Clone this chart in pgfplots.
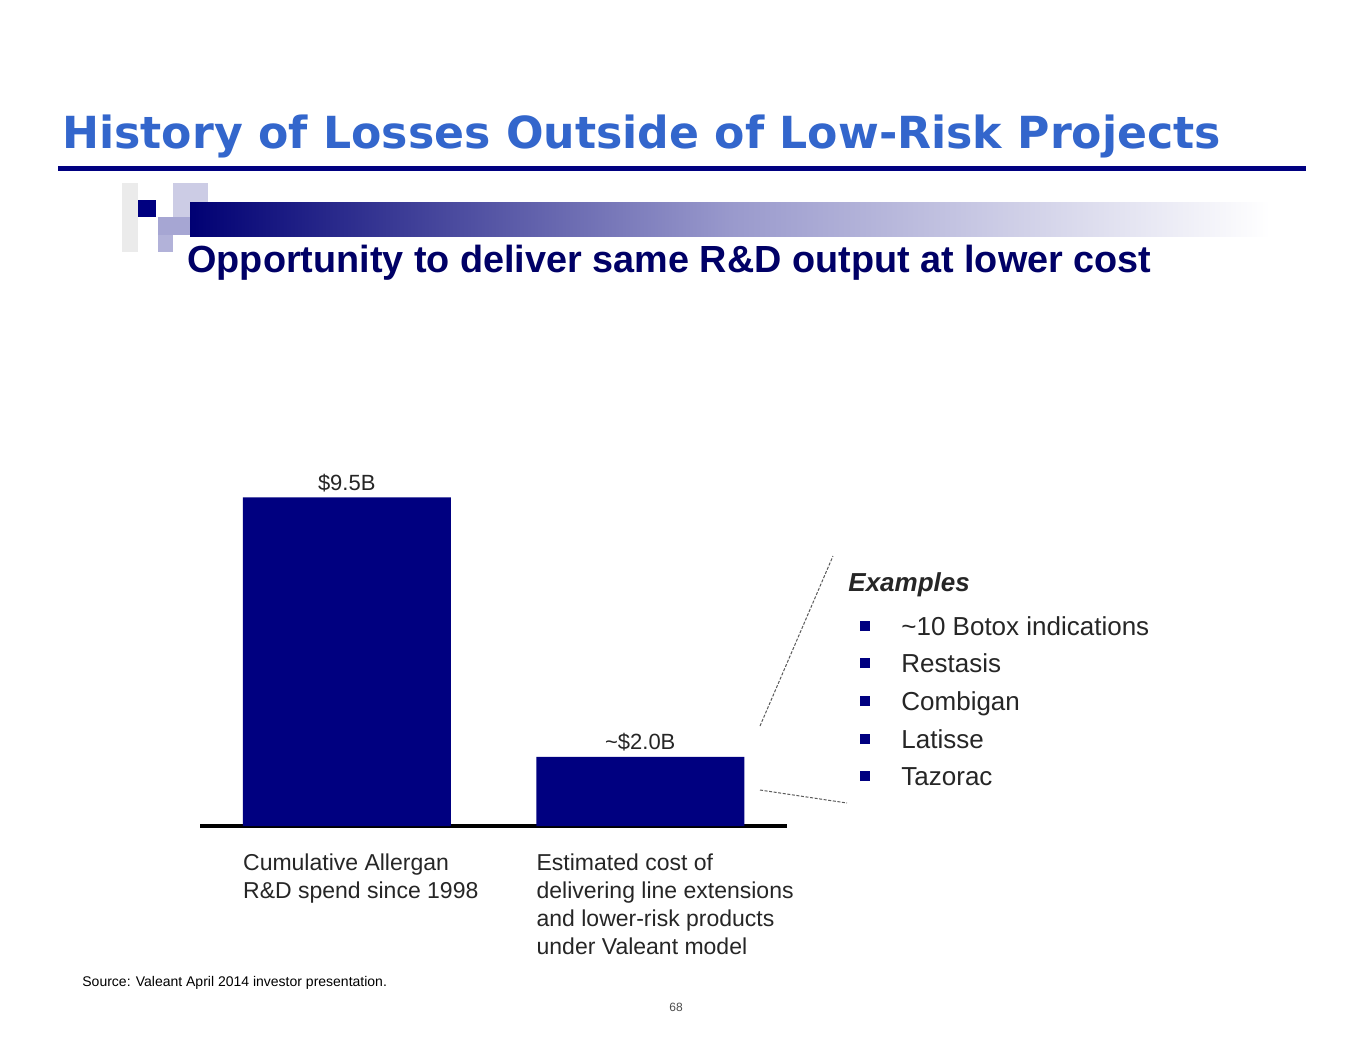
\documentclass[border=0pt]{standalone}
\usepackage{fontspec}
\setmainfont{Liberation Sans}
\newfontfamily\titlefont{DejaVu Sans}
\usepackage{pgfplots}
\pgfplotsset{compat=1.18}
\definecolor{navy}{RGB}{0,0,128}
\definecolor{titleblue}{RGB}{51,102,204}
\definecolor{subnavy}{RGB}{0,0,102}
\definecolor{dashgray}{RGB}{90,90,90}

\begin{document}
\begin{tikzpicture}[x=0.5pt,y=-0.5pt]
\useasboundingbox (0,0) rectangle (1360,1050);
\fill[white] (0,0) rectangle (1360,1050);

% title and rule
\node[anchor=base west, inner sep=0pt, text=titleblue,
  font=\titlefont\bfseries\fontsize{22.1}{26}\selectfont] at (62,148)
  {History of Losses Outside of Low-Risk Projects};
\draw[navy, line width=2.5pt] (58,168) -- (1306,168);

% decorative squares and gradient band
\fill[black!8] (122,183) rectangle (138,252);
\fill[navy!20] (173,183) rectangle (208,217);
\fill[navy!35] (158,217) rectangle (192,235);
\fill[navy!30] (158,235) rectangle (173,252);
\shade[left color=navy!90!black, right color=white, middle color=navy!40] (190,202) rectangle (1270,236);
\fill[navy] (138,200) rectangle (156,217);

\node[anchor=base west, inner sep=0pt, text=subnavy,
  font=\bfseries\fontsize{18.9}{22}\selectfont] at (187,272)
  {Opportunity to deliver same R\&D output at lower cost};

\begin{axis}[
  at={(100pt,-413pt)}, anchor=south west,
  scale only axis, width=293.5pt, height=173pt,
  xmin=-0.5, xmax=1.5, ymin=0, ymax=10,
  ybar, bar width=104pt,
  axis x line*=bottom, axis y line=none,
  x axis line style={-, line width=1.6pt, black},
  ytick=\empty,
  xtick={0,1},
  xticklabels={{Cumulative Allergan\\R\&D spend since 1998},
               {Estimated cost of\\delivering line extensions\\and lower-risk products\\under Valeant model}},
  major tick length=0pt,
  xticklabel style={align=left, anchor=north west, xshift=-52pt, yshift=-13.5pt,
    inner sep=0pt, font=\fontsize{11.5}{14}\selectfont, text=black!85},
  clip=false,
]
\addplot[fill=navy, draw=none,
  nodes near coords, point meta=explicit symbolic,
  nodes near coords style={anchor=base, yshift=3.5pt, inner sep=0pt,
    font=\fontsize{11}{14}\selectfont, text=black!85}]
  coordinates {(0,9.5) [\$9.5B] (1,2.0) [\textasciitilde\$2.0B]};
\end{axis}

% callout
\draw[dashgray, line width=0.5pt, dash pattern=on 1.5pt off 0.8pt] (760,726) -- (833,556);
\draw[dashgray, line width=0.5pt, dash pattern=on 1.5pt off 0.8pt] (760,790) -- (847,803);
\node[anchor=base west, inner sep=0pt, font=\bfseries\itshape\fontsize{13}{16}\selectfont, text=black!85]
  at (848,591) {Examples};
\foreach \y/\t in {635/\textasciitilde10 Botox indications, 672/Restasis, 710/Combigan, 748/Latisse, 785/Tazorac}{
  \node[anchor=base west, inner sep=0pt, font=\fontsize{13}{16}\selectfont, text=black!85]
    at (860,\y) {\textcolor{navy}{\raisebox{2pt}{\rule{5pt}{5pt}}}\hspace{15.5pt}\t};
}

% footer
\node[anchor=west, inner sep=0pt, font=\fontsize{7}{8}\selectfont] at (82,983)
  {Source: Valeant April 2014 investor presentation.};
\node[inner sep=0pt, font=\fontsize{6}{7}\selectfont, text=black!70] at (676,1007) {68};
\end{tikzpicture}
\end{document}
